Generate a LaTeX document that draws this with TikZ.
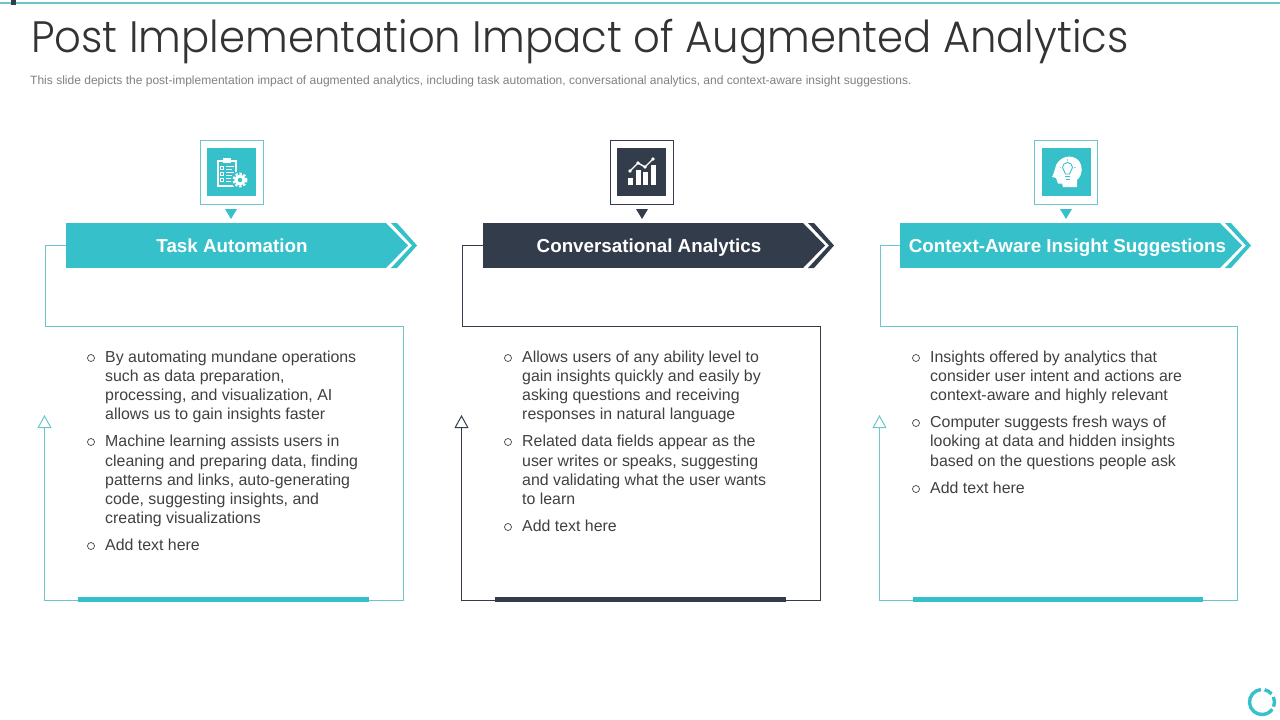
\documentclass[tikz,border=0pt]{standalone}
\usepackage{fontspec}
\usepackage{xcolor}
\usetikzlibrary{arrows.meta}
\setmainfont{Liberation Sans}
\newfontfamily\titlefont{Poppins Light}
\definecolor{tealbar}{HTML}{36C0C9}
\definecolor{tealline}{HTML}{6CC5CB}
\definecolor{navybar}{HTML}{333C4B}
\definecolor{bodygray}{HTML}{404040}
\tikzset{
  banner/.style={minimum width=320pt, minimum height=45pt, inner sep=0pt, outer sep=0pt},
  bannertext/.style={anchor=base, font=\fontsize{18.8}{20}\selectfont\bfseries, text=white, inner sep=0pt},
  iconframe/.style={draw, line width=1pt, minimum width=63pt, minimum height=64pt, inner sep=0pt},
  iconsquare/.style={minimum width=49pt, minimum height=48pt, inner sep=0pt},
  bodyline/.style={anchor=base west, font=\fontsize{15.9}{16}\selectfont, text=bodygray, inner sep=0pt},
  bulletmark/.style={draw=bodygray, circle, line width=0.7pt, minimum size=7pt, inner sep=0pt},
  outline/.style={line width=1pt, -{Triangle[open, length=13pt, width=14pt]}},
}
\begin{document}
\begin{tikzpicture}[x=1pt, y=-1pt]
\useasboundingbox (0, 0) rectangle (1280, 720);

\draw[tealline, line width=1.2pt] (0, 3) -- (1280, 3);
\fill[navybar] (11, 0) rectangle (16, 5);
\node[anchor=west, inner sep=0pt, text=black!80, font=\titlefont\fontsize{44}{44}\selectfont] (title) at (31, 42) {\scalebox{0.95}[1]{Post Implementation Impact of Augmented Analytics}};
\node[anchor=west, inner sep=0pt, text=gray, font=\fontsize{12.03}{12}\selectfont] (subtitle) at (30, 81) {This slide depicts the post-implementation impact of augmented analytics, including task automation, conversational analytics, and context-aware insight suggestions.};

% Task Automation
\node[banner, fill=tealbar] (taskbar) at (226, 245.5) {};
\fill[tealbar] (taskbar.north east) -- (408, 245.5) -- (taskbar.south east) -- cycle;
\fill[tealbar] (391, 223) -- (397, 223) -- (417, 245.5) -- (397, 268) -- (391, 268) -- (412, 245.5) -- cycle;
\node[bannertext] (tasktitle) at (232, 252) {Task Automation};
\node[iconframe, draw=tealline] (taskframe) at (232, 172.5) {};
\node[iconsquare, fill=tealbar] (tasksquare) at (231.5, 172) {};
\fill[tealbar] (225, 209) -- (237, 209) -- (231, 219) -- cycle;
\coordinate (taska) at (45.5, 245.5);
\coordinate (taskb) at (45.5, 326.5);
\coordinate (taskc) at (403.5, 326.5);
\coordinate (taskd) at (403.5, 600.5);
\coordinate (taske) at (44.5, 600.5);
\coordinate (taskf) at (44.5, 415);
\draw[tealline, line width=1pt] (taskbar.west) -- (taska) -- (taskb) -- (taskc) -- (taskd) -- (taske);
\draw[outline, tealline] (taske) -- (taskf);
\fill[tealbar] (78, 597) rectangle (369, 602);
% clipboard and gear
\draw[white, line width=1.1pt] (218, 161) rectangle (236, 186);
\fill[white] (223, 158) rectangle (231, 162.5);
\foreach \y in {166, 172, 178} {
    \draw[white, line width=0.9pt] (220, \y) rectangle (223.5, \y+3.5);
    \draw[white, line width=1pt] (226, \y+0.5) -- (234, \y+0.5);
    \draw[white, line width=1pt] (226, \y+3) -- (232, \y+3);
}
\fill[tealbar] (240, 180) circle [radius=9];
\draw[white, line width=2pt, dash pattern=on 2.4pt off 1.8pt] (240, 180) circle [radius=6.4];
\fill[white] (240, 180) circle [radius=5.6];
\fill[tealbar] (240, 180) circle [radius=2.2];

\foreach \y/\txt [count=\i] in {362/{By automating mundane operations}, 381/{such as data preparation,}, 400/{processing, and visualization, AI}, 419/{allows us to gain insights faster}, 446/{Machine learning assists users in}, 466/{cleaning and preparing data, finding}, 485/{patterns and links, auto-generating}, 504/{code, suggesting insights, and}, 523/{creating visualizations}, 550/{Add text here}} {
    \node[bodyline] (taskline\i) at (105, \y) {\txt};
}
\foreach \y [count=\i] in {358, 442, 546} {
    \node[bulletmark] (taskdot\i) at (91, \y) {};
}

% Conversational Analytics
\node[banner, fill=navybar] (convbar) at (643, 245.5) {};
\fill[navybar] (convbar.north east) -- (825, 245.5) -- (convbar.south east) -- cycle;
\fill[navybar] (808, 223) -- (814, 223) -- (834, 245.5) -- (814, 268) -- (808, 268) -- (829, 245.5) -- cycle;
\node[bannertext] (convtitle) at (649, 252) {Conversational Analytics};
\node[iconframe, draw=navybar] (convframe) at (642, 172.5) {};
\node[iconsquare, fill=navybar] (convsquare) at (641.5, 172) {};
\fill[navybar] (636, 209) -- (648, 209) -- (642, 219) -- cycle;
\coordinate (conva) at (462.5, 245.5);
\coordinate (convb) at (462.5, 326.5);
\coordinate (convc) at (820.5, 326.5);
\coordinate (convd) at (820.5, 600.5);
\coordinate (conve) at (461.5, 600.5);
\coordinate (convf) at (461.5, 415);
\draw[navybar, line width=1pt] (convbar.west) -- (conva) -- (convb) -- (convc) -- (convd) -- (conve);
\draw[outline, navybar] (conve) -- (convf);
\fill[navybar] (495, 597) rectangle (786, 602);
% bar chart
\fill[white] (628, 178) rectangle (633, 185);
\fill[white] (636, 170) rectangle (640.5, 185);
\fill[white] (643, 172) rectangle (648, 185);
\fill[white] (651, 165) rectangle (655.5, 185);
\draw[white, line width=1.4pt] (630, 171) -- (638, 163) -- (645, 167) -- (653, 159);
\foreach \x/\y in {630/171, 638/163, 645/167, 653/159} {
    \fill[white] (\x, \y) circle [radius=1.8];
}

\foreach \y/\txt [count=\i] in {362/{Allows users of any ability level to}, 381/{gain insights quickly and easily by}, 400/{asking questions and receiving}, 419/{responses in natural language}, 446/{Related data fields appear as the}, 466/{user writes or speaks, suggesting}, 485/{and validating what the user wants}, 504/{to learn}, 531/{Add text here}} {
    \node[bodyline] (convline\i) at (522, \y) {\txt};
}
\foreach \y [count=\i] in {358, 442, 527} {
    \node[bulletmark] (convdot\i) at (508, \y) {};
}

% Context-Aware Insight Suggestions
\node[banner, fill=tealbar] (insightbar) at (1060, 245.5) {};
\fill[tealbar] (insightbar.north east) -- (1242, 245.5) -- (insightbar.south east) -- cycle;
\fill[tealbar] (1225, 223) -- (1231, 223) -- (1251, 245.5) -- (1231, 268) -- (1225, 268) -- (1246, 245.5) -- cycle;
\node[bannertext] (insighttitle) at (1067.5, 252) {Context-Aware Insight Suggestions};
\node[iconframe, draw=tealline] (insightframe) at (1066.3, 172.5) {};
\node[iconsquare, fill=tealbar] (insightsquare) at (1066, 172) {};
\fill[tealbar] (1060, 209) -- (1072, 209) -- (1066, 219) -- cycle;
\coordinate (insighta) at (880.5, 245.5);
\coordinate (insightb) at (880.5, 326.5);
\coordinate (insightc) at (1237.5, 326.5);
\coordinate (insightd) at (1237.5, 600.5);
\coordinate (insighte) at (879.5, 600.5);
\coordinate (insightf) at (879.5, 415);
\draw[tealline, line width=1pt] (insightbar.west) -- (insighta) -- (insightb) -- (insightc) -- (insightd) -- (insighte);
\draw[outline, tealline] (insighte) -- (insightf);
\fill[tealbar] (913, 597) rectangle (1203, 602);
% head with bulb
\fill[white] (1052, 177) .. controls (1055, 172) and (1055, 165) .. (1058, 162) .. controls (1064, 155) and (1074, 155) .. (1079, 161) .. controls (1083, 166) and (1083, 175) .. (1077, 180) -- (1077, 187) -- (1063, 187) -- (1062, 183.5) -- (1058, 183.5) -- (1056, 178) -- cycle;
\draw[tealbar, line width=0.9pt] (1065.5, 174) .. controls (1065.5, 171) and (1062.5, 170.5) .. (1062.5, 167.5) arc (180:360:5) .. controls (1072.5, 170.5) and (1069.5, 171) .. (1069.5, 174) -- cycle;
\draw[tealbar, line width=1pt] (1065, 176.5) -- (1070, 176.5);
\draw[tealbar, line width=1pt] (1065.5, 179) -- (1069.5, 179);
\draw[tealbar!60, line width=0.7pt] (1067.5, 159) -- (1067.5, 160.5);
\draw[tealbar!60, line width=0.7pt] (1059.5, 167) -- (1061, 167);
\draw[tealbar!60, line width=0.7pt] (1074, 167) -- (1075.5, 167);

\foreach \y/\txt [count=\i] in {362/{Insights offered by analytics that}, 381/{consider user intent and actions are}, 400/{context-aware and highly relevant}, 427/{Computer suggests fresh ways of}, 446/{looking at data and hidden insights}, 466/{based on the questions people ask}, 493/{Add text here}} {
    \node[bodyline] (insightline\i) at (930, \y) {\txt};
}
\foreach \y [count=\i] in {358, 423, 489} {
    \node[bulletmark] (insightdot\i) at (916, \y) {};
}

% logo corner
\draw[tealbar, line width=3.4pt] (1262, 702) ++(-95:12.5) arc (-95:-325:12.5);
\draw[tealbar, line width=3.4pt] (1262, 702) ++(22:12.5) arc (22:-24:12.5);
\draw[tealbar, line width=3.4pt] (1262, 702) ++(-40:12.5) arc (-40:-78:12.5);

\end{tikzpicture}
\end{document}
